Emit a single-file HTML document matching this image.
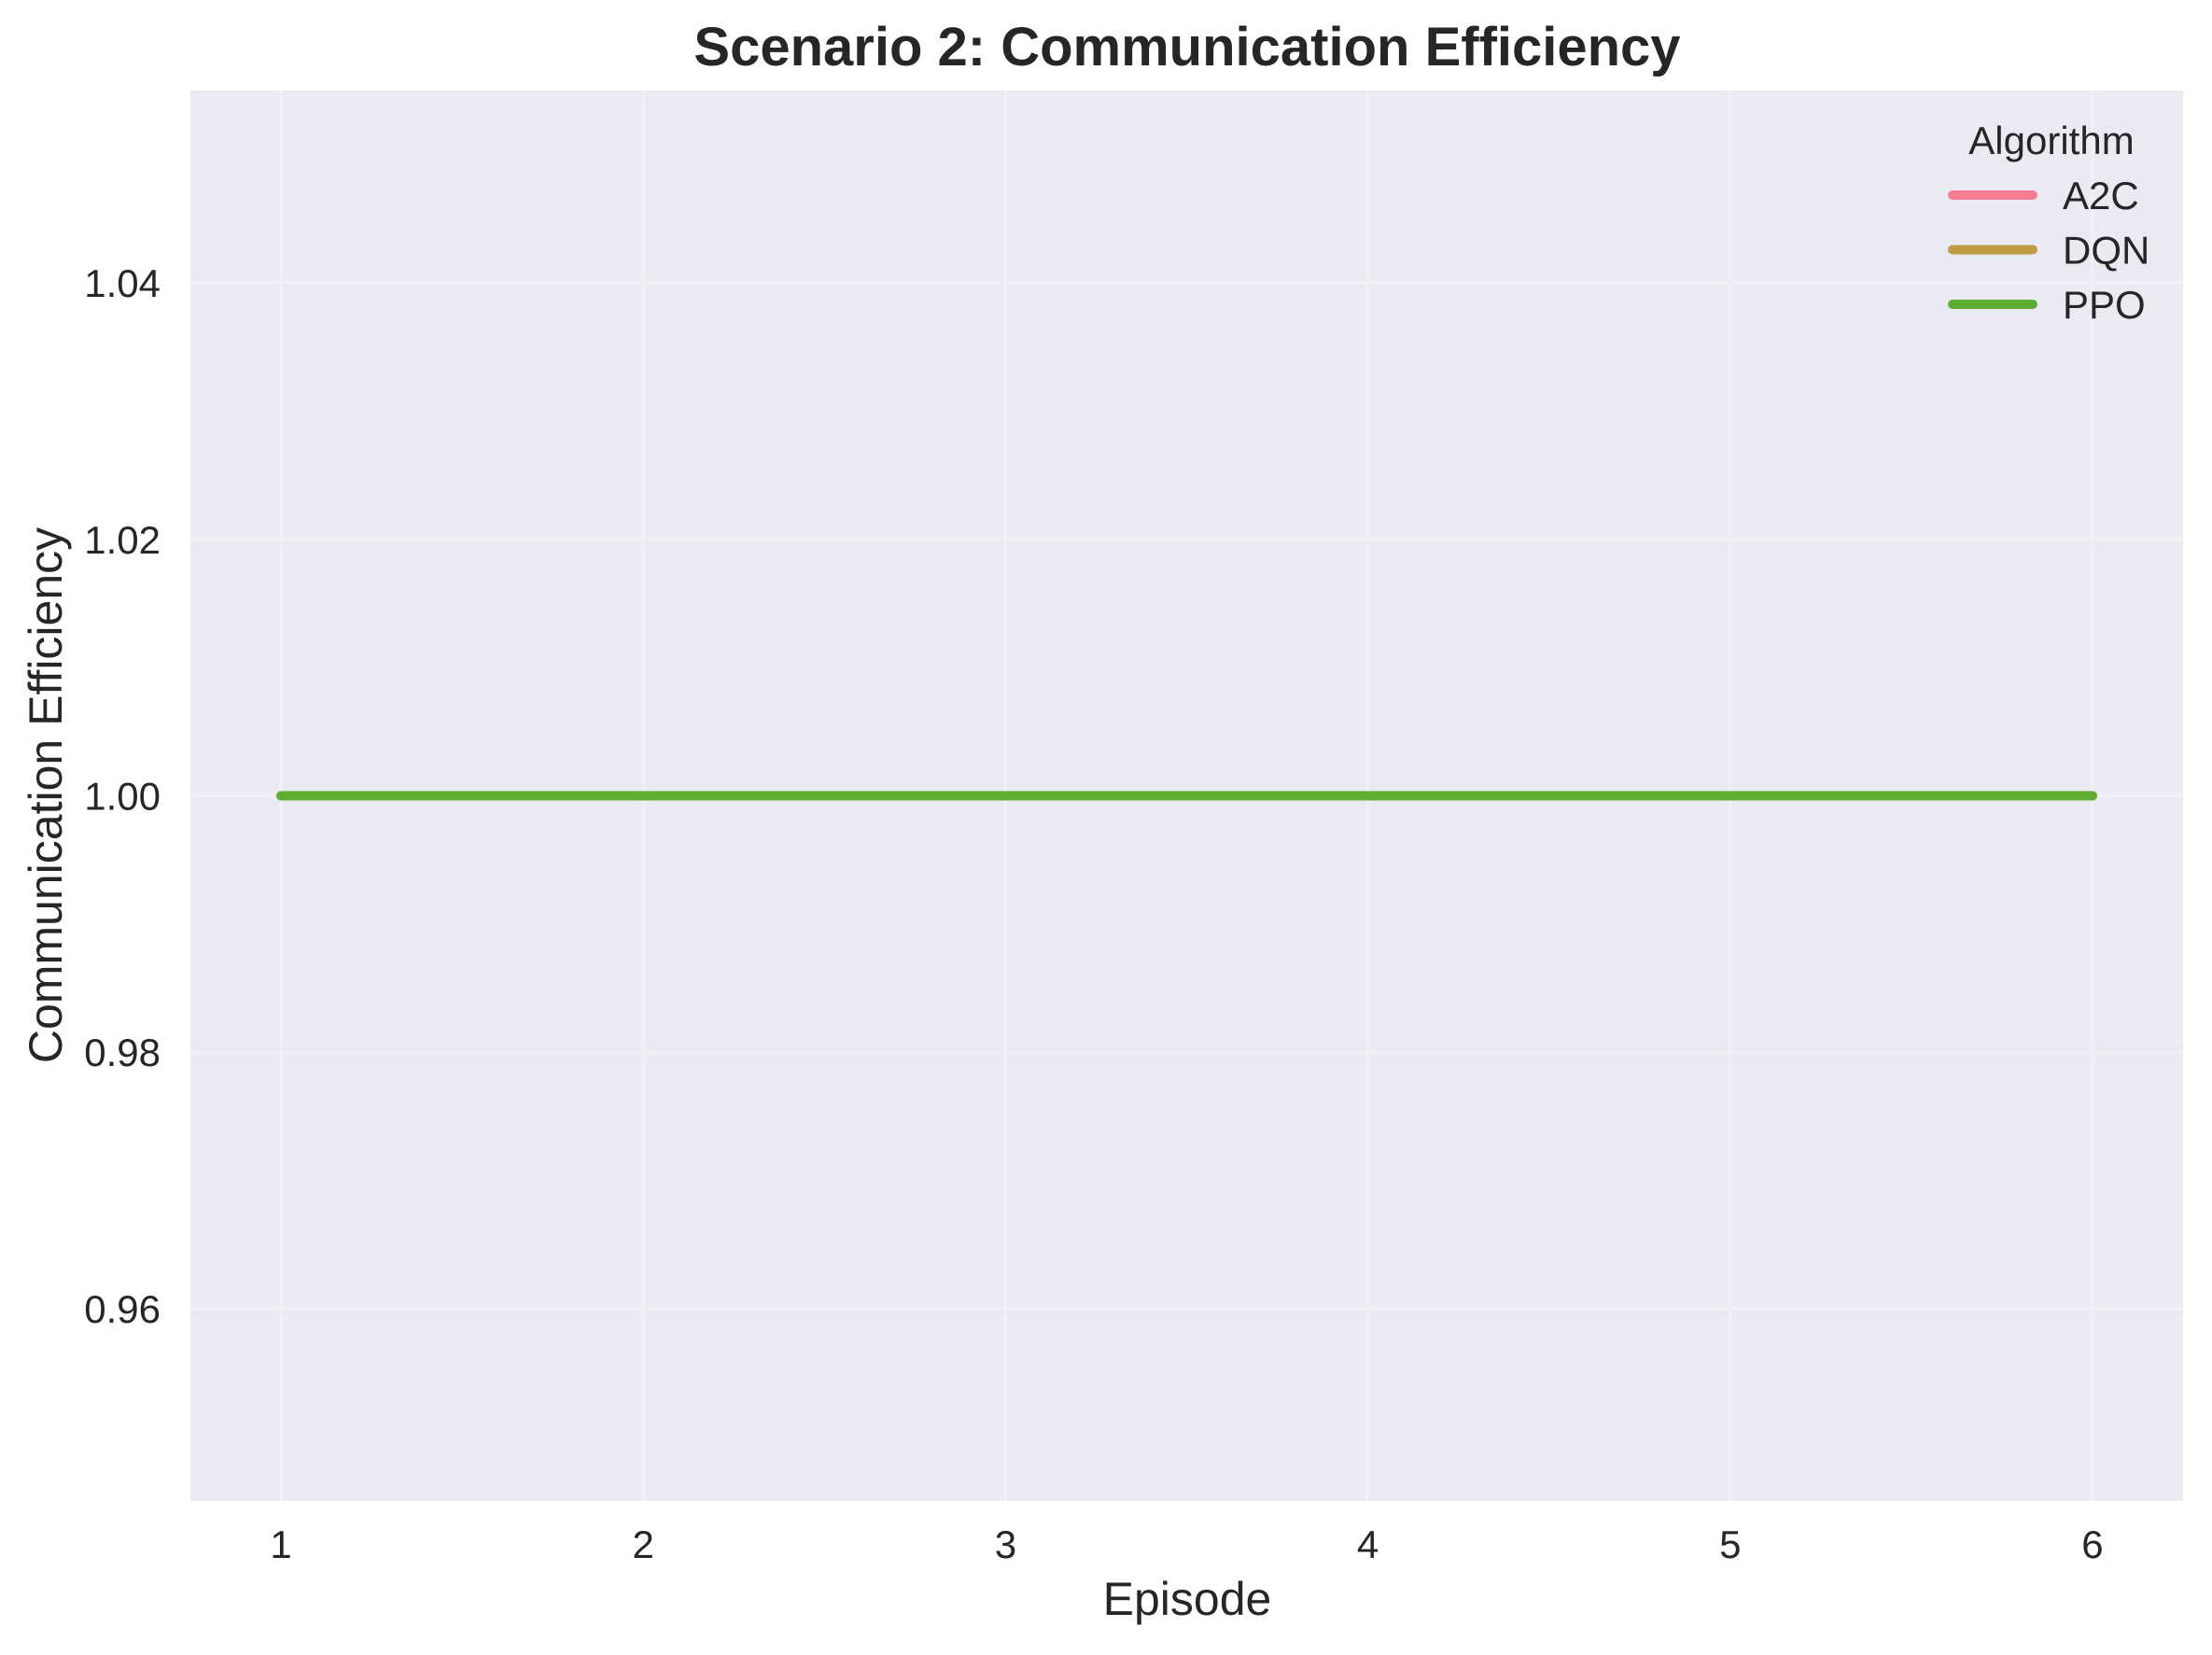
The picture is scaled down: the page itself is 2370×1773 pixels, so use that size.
<!DOCTYPE html>
<html><head><meta charset="utf-8"><style>
body{margin:0;background:#fff}
svg text{font-family:"Liberation Sans",Arial,sans-serif;fill:#262626}
</style></head><body>
<svg width="2370" height="1768" viewBox="0 0 2370 1768" xmlns="http://www.w3.org/2000/svg">
<rect x="204" y="97" width="2135" height="1511" fill="#eaeaf2"/>
<g id="grid"></g>
<g id="ticks"></g>
<g id="series"></g>
<text x="1272" y="70" text-anchor="middle" font-size="58" font-weight="bold">Scenario 2: Communication Efficiency</text>
<text x="1272" y="1730" text-anchor="middle" font-size="50">Episode</text>
<text x="0" y="0" transform="translate(66,852) rotate(-90)" text-anchor="middle" font-size="50">Communication Efficiency</text>
<g>
<text x="2198" y="165" text-anchor="middle" font-size="42">Algorithm</text>
<g id="legend-entries"></g>
</g>
</svg>
<script>
const episodes=[1,2,3,4,5,6];
const seriesNames=["A2C","DQN","PPO"];
const a2c=[1,1,1,1,1,1];
const dqn=[1,1,1,1,1,1];
const ppo=[1,1,1,1,1,1];
const xTicks=[1,2,3,4,5,6];
const yTicks=[0.96,0.98,1.00,1.02,1.04];
const yTickLabels=["0.96","0.98","1.00","1.02","1.04"];
const colors=["#f77b92","#c09b42","#5dad32"];
const NS="http://www.w3.org/2000/svg";
const X0=0.75,X1=6.25,Y0=0.945,Y1=1.055,L=204,R=2339,T=97,B=1608;
const xs=v=>L+(v-X0)/(X1-X0)*(R-L);
const ys=v=>B-(v-Y0)/(Y1-Y0)*(B-T);
function mk(tag,attrs,parent){const e=document.createElementNS(NS,tag);for(const k in attrs)e.setAttribute(k,attrs[k]);parent.appendChild(e);return e;}
const grid=document.getElementById('grid'),ticks=document.getElementById('ticks'),ser=document.getElementById('series'),leg=document.getElementById('legend-entries');
xTicks.forEach(t=>{
 const g=mk('line',{x1:xs(t),x2:xs(t),y1:T,y2:B,stroke:'#f1f1f5','stroke-width':3},grid);
 
 
 const tx=mk('text',{x:xs(t),y:1669,'text-anchor':'middle','font-size':42},ticks);
 tx.textContent=t;
 
 
});
yTicks.forEach((t,i)=>{
 const g=mk('line',{x1:L,x2:R,y1:ys(t),y2:ys(t),stroke:'#f1f1f5','stroke-width':3},grid);
 
 
 const tx=mk('text',{x:172,y:ys(t)+15,'text-anchor':'end','font-size':42},ticks);
 tx.textContent=yTickLabels[i];
 
 
});
[a2c,dqn,ppo].forEach((d,i)=>{
 const pts=d.map((v,j)=>xs(episodes[j])+','+ys(v)).join(' ');
 const p=mk('polyline',{points:pts,fill:'none',stroke:colors[i],'stroke-width':10,'stroke-linecap':'round','stroke-linejoin':'round'},ser);
 
 
 const ly=209+i*58.5;
 const ll=mk('line',{x1:2092,x2:2178,y1:ly,y2:ly,stroke:colors[i],'stroke-width':10,'stroke-linecap':'round'},leg);
 
 
 const lt=mk('text',{x:2210,y:ly+15,'font-size':42},leg);
 lt.textContent=seriesNames[i];
 
 
});
</script>
</body></html>
